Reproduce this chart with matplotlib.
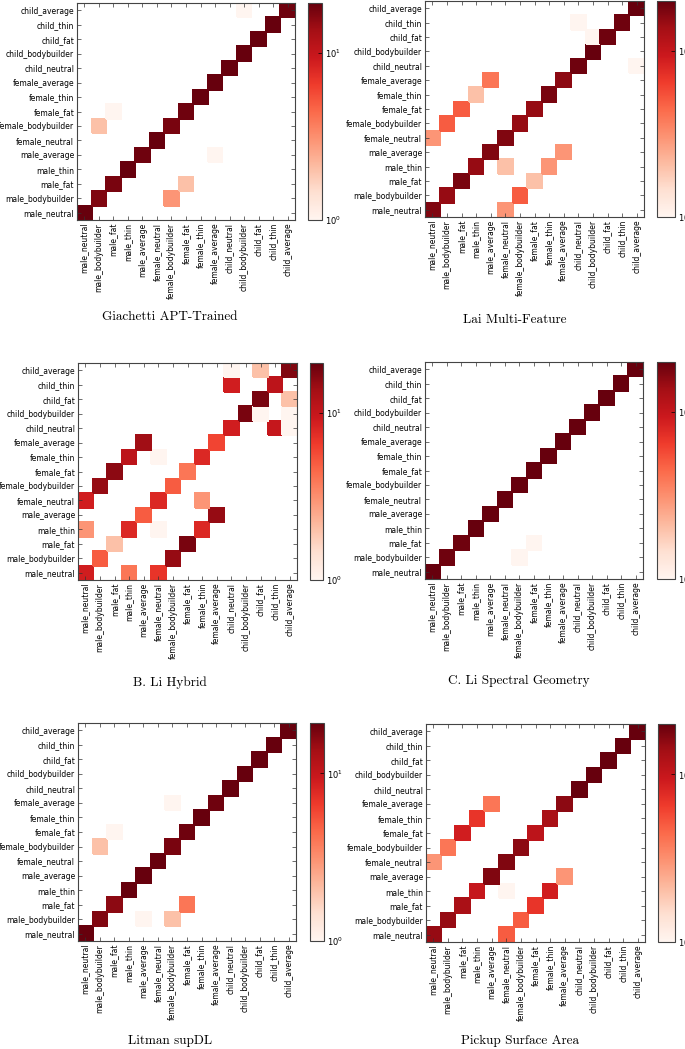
import numpy as np
import matplotlib
matplotlib.use('Agg')
import matplotlib.pyplot as plt
from matplotlib.colors import LogNorm

classes = ['male_neutral', 'male_bodybuilder', 'male_fat', 'male_thin', 'male_average',
           'female_neutral', 'female_bodybuilder', 'female_fat', 'female_thin', 'female_average',
           'child_neutral', 'child_bodybuilder', 'child_fat', 'child_thin', 'child_average']

# confusion matrices, row = true class, column = predicted class
giachetti = [
    [20, 0, 0, 0, 0, 0, 0, 0, 0, 0, 0, 0, 0, 0, 0],
    [0, 17, 0, 0, 0, 0, 3, 0, 0, 0, 0, 0, 0, 0, 0],
    [0, 0, 18, 0, 0, 0, 0, 2, 0, 0, 0, 0, 0, 0, 0],
    [0, 0, 0, 20, 0, 0, 0, 0, 0, 0, 0, 0, 0, 0, 0],
    [0, 0, 0, 0, 19, 0, 0, 0, 0, 1, 0, 0, 0, 0, 0],
    [0, 0, 0, 0, 0, 20, 0, 0, 0, 0, 0, 0, 0, 0, 0],
    [0, 2, 0, 0, 0, 0, 18, 0, 0, 0, 0, 0, 0, 0, 0],
    [0, 0, 1, 0, 0, 0, 0, 19, 0, 0, 0, 0, 0, 0, 0],
    [0, 0, 0, 0, 0, 0, 0, 0, 20, 0, 0, 0, 0, 0, 0],
    [0, 0, 0, 0, 0, 0, 0, 0, 0, 20, 0, 0, 0, 0, 0],
    [0, 0, 0, 0, 0, 0, 0, 0, 0, 0, 20, 0, 0, 0, 0],
    [0, 0, 0, 0, 0, 0, 0, 0, 0, 0, 0, 20, 0, 0, 0],
    [0, 0, 0, 0, 0, 0, 0, 0, 0, 0, 0, 0, 20, 0, 0],
    [0, 0, 0, 0, 0, 0, 0, 0, 0, 0, 0, 0, 0, 20, 0],
    [0, 0, 0, 0, 0, 0, 0, 0, 0, 0, 0, 1, 0, 0, 19],
]

lai = [
    [17, 0, 0, 0, 0, 3, 0, 0, 0, 0, 0, 0, 0, 0, 0],
    [0, 15, 0, 0, 0, 0, 5, 0, 0, 0, 0, 0, 0, 0, 0],
    [0, 0, 18, 0, 0, 0, 0, 2, 0, 0, 0, 0, 0, 0, 0],
    [0, 0, 0, 15, 0, 2, 0, 0, 3, 0, 0, 0, 0, 0, 0],
    [0, 0, 0, 0, 17, 0, 0, 0, 0, 3, 0, 0, 0, 0, 0],
    [3, 0, 0, 0, 0, 17, 0, 0, 0, 0, 0, 0, 0, 0, 0],
    [0, 5, 0, 0, 0, 0, 15, 0, 0, 0, 0, 0, 0, 0, 0],
    [0, 0, 5, 0, 0, 0, 0, 15, 0, 0, 0, 0, 0, 0, 0],
    [0, 0, 0, 2, 0, 0, 0, 0, 18, 0, 0, 0, 0, 0, 0],
    [0, 0, 0, 0, 4, 0, 0, 0, 0, 16, 0, 0, 0, 0, 0],
    [0, 0, 0, 0, 0, 0, 0, 0, 0, 0, 19, 0, 0, 0, 1],
    [0, 0, 0, 0, 0, 0, 0, 0, 0, 0, 0, 20, 0, 0, 0],
    [0, 0, 0, 0, 0, 0, 0, 0, 0, 0, 0, 1, 19, 0, 0],
    [0, 0, 0, 0, 0, 0, 0, 0, 0, 0, 1, 0, 0, 19, 0],
    [0, 0, 0, 0, 0, 0, 0, 0, 0, 0, 0, 0, 0, 0, 20],
]

bli_hybrid = [
    [9, 0, 0, 4, 0, 7, 0, 0, 0, 0, 0, 0, 0, 0, 0],
    [0, 5, 0, 0, 0, 0, 15, 0, 0, 0, 0, 0, 0, 0, 0],
    [0, 0, 2, 0, 0, 0, 0, 18, 0, 0, 0, 0, 0, 0, 0],
    [3, 0, 0, 8, 0, 1, 0, 0, 8, 0, 0, 0, 0, 0, 0],
    [0, 0, 0, 0, 5, 0, 0, 0, 0, 15, 0, 0, 0, 0, 0],
    [9, 0, 0, 0, 0, 8, 0, 0, 3, 0, 0, 0, 0, 0, 0],
    [0, 15, 0, 0, 0, 0, 5, 0, 0, 0, 0, 0, 0, 0, 0],
    [0, 0, 16, 0, 0, 0, 0, 4, 0, 0, 0, 0, 0, 0, 0],
    [0, 0, 0, 11, 0, 1, 0, 0, 8, 0, 0, 0, 0, 0, 0],
    [0, 0, 0, 0, 14, 0, 0, 0, 0, 6, 0, 0, 0, 0, 0],
    [0, 0, 0, 0, 0, 0, 0, 0, 0, 0, 9, 0, 0, 10, 1],
    [0, 0, 0, 0, 0, 0, 0, 0, 0, 0, 0, 18, 1, 0, 1],
    [0, 0, 0, 0, 0, 0, 0, 0, 0, 0, 0, 0, 18, 0, 2],
    [0, 0, 0, 0, 0, 0, 0, 0, 0, 0, 9, 0, 0, 11, 0],
    [0, 0, 0, 0, 0, 0, 0, 0, 0, 0, 1, 0, 2, 0, 17],
]

cli_spectral = [
    [20, 0, 0, 0, 0, 0, 0, 0, 0, 0, 0, 0, 0, 0, 0],
    [0, 19, 0, 0, 0, 0, 1, 0, 0, 0, 0, 0, 0, 0, 0],
    [0, 0, 19, 0, 0, 0, 0, 1, 0, 0, 0, 0, 0, 0, 0],
    [0, 0, 0, 20, 0, 0, 0, 0, 0, 0, 0, 0, 0, 0, 0],
    [0, 0, 0, 0, 20, 0, 0, 0, 0, 0, 0, 0, 0, 0, 0],
    [0, 0, 0, 0, 0, 20, 0, 0, 0, 0, 0, 0, 0, 0, 0],
    [0, 0, 0, 0, 0, 0, 20, 0, 0, 0, 0, 0, 0, 0, 0],
    [0, 0, 0, 0, 0, 0, 0, 20, 0, 0, 0, 0, 0, 0, 0],
    [0, 0, 0, 0, 0, 0, 0, 0, 20, 0, 0, 0, 0, 0, 0],
    [0, 0, 0, 0, 0, 0, 0, 0, 0, 20, 0, 0, 0, 0, 0],
    [0, 0, 0, 0, 0, 0, 0, 0, 0, 0, 20, 0, 0, 0, 0],
    [0, 0, 0, 0, 0, 0, 0, 0, 0, 0, 0, 20, 0, 0, 0],
    [0, 0, 0, 0, 0, 0, 0, 0, 0, 0, 0, 0, 20, 0, 0],
    [0, 0, 0, 0, 0, 0, 0, 0, 0, 0, 0, 0, 0, 20, 0],
    [0, 0, 0, 0, 0, 0, 0, 0, 0, 0, 0, 0, 0, 0, 20],
]

litman = [
    [20, 0, 0, 0, 0, 0, 0, 0, 0, 0, 0, 0, 0, 0, 0],
    [0, 17, 0, 0, 1, 0, 2, 0, 0, 0, 0, 0, 0, 0, 0],
    [0, 0, 16, 0, 0, 0, 0, 4, 0, 0, 0, 0, 0, 0, 0],
    [0, 0, 0, 20, 0, 0, 0, 0, 0, 0, 0, 0, 0, 0, 0],
    [0, 0, 0, 0, 20, 0, 0, 0, 0, 0, 0, 0, 0, 0, 0],
    [0, 0, 0, 0, 0, 20, 0, 0, 0, 0, 0, 0, 0, 0, 0],
    [0, 2, 0, 0, 0, 0, 18, 0, 0, 0, 0, 0, 0, 0, 0],
    [0, 0, 1, 0, 0, 0, 0, 19, 0, 0, 0, 0, 0, 0, 0],
    [0, 0, 0, 0, 0, 0, 0, 0, 20, 0, 0, 0, 0, 0, 0],
    [0, 0, 0, 0, 0, 0, 1, 0, 0, 19, 0, 0, 0, 0, 0],
    [0, 0, 0, 0, 0, 0, 0, 0, 0, 0, 20, 0, 0, 0, 0],
    [0, 0, 0, 0, 0, 0, 0, 0, 0, 0, 0, 20, 0, 0, 0],
    [0, 0, 0, 0, 0, 0, 0, 0, 0, 0, 0, 0, 20, 0, 0],
    [0, 0, 0, 0, 0, 0, 0, 0, 0, 0, 0, 0, 0, 20, 0],
    [0, 0, 0, 0, 0, 0, 0, 0, 0, 0, 0, 0, 0, 0, 20],
]

pickup = [
    [15, 0, 0, 0, 0, 5, 0, 0, 0, 0, 0, 0, 0, 0, 0],
    [0, 15, 0, 0, 0, 0, 5, 0, 0, 0, 0, 0, 0, 0, 0],
    [0, 0, 13, 0, 0, 0, 0, 7, 0, 0, 0, 0, 0, 0, 0],
    [0, 0, 0, 10, 0, 1, 0, 0, 9, 0, 0, 0, 0, 0, 0],
    [0, 0, 0, 0, 17, 0, 0, 0, 0, 3, 0, 0, 0, 0, 0],
    [3, 0, 0, 0, 0, 17, 0, 0, 0, 0, 0, 0, 0, 0, 0],
    [0, 4, 0, 0, 0, 0, 16, 0, 0, 0, 0, 0, 0, 0, 0],
    [0, 0, 9, 0, 0, 0, 0, 11, 0, 0, 0, 0, 0, 0, 0],
    [0, 0, 0, 7, 0, 0, 0, 0, 13, 0, 0, 0, 0, 0, 0],
    [0, 0, 0, 0, 4, 0, 0, 0, 0, 16, 0, 0, 0, 0, 0],
    [0, 0, 0, 0, 0, 0, 0, 0, 0, 0, 20, 0, 0, 0, 0],
    [0, 0, 0, 0, 0, 0, 0, 0, 0, 0, 0, 20, 0, 0, 0],
    [0, 0, 0, 0, 0, 0, 0, 0, 0, 0, 0, 0, 20, 0, 0],
    [0, 0, 0, 0, 0, 0, 0, 0, 0, 0, 0, 0, 0, 20, 0],
    [0, 0, 0, 0, 0, 0, 0, 0, 0, 0, 0, 0, 0, 0, 20],
]

titles = ['Giachetti APT-Trained', 'Lai Multi-Feature', 'B. Li Hybrid',
          'C. Li Spectral Geometry', 'Litman supDL', 'Pickup Surface Area']
matrices = [giachetti, lai, bli_hybrid, cli_spectral, litman, pickup]

W, H = 685, 1049
fig = plt.figure(figsize=(W / 100, H / 100), dpi=100)


def box(x0, y0, x1, y1):
    # pixel box (top-left origin) -> figure fraction rect
    return [x0 / W, 1 - y1 / H, (x1 - x0) / W, (y1 - y0) / H]


# axes box, colorbar box, title centre (pixels)
layout = [
    ((77, 3, 295, 220), (308, 3, 322, 220), (170, 317)),
    ((425, 1, 644, 217), (657, 1, 675, 217), (515, 320)),
    ((78, 363, 297, 580), (310, 363, 323, 580), (170, 683)),
    ((425, 362, 643, 579), (657, 362, 675, 579), (519, 681)),
    ((78, 723, 296, 941), (310, 723, 324, 941), (170, 1041)),
    ((426, 724, 645, 942), (658, 724, 675, 942), (520, 1041)),
]

norm = LogNorm(vmin=1, vmax=20)
n = len(classes)

for mat, title, (abox, cbox, tpos) in zip(matrices, titles, layout):
    ax = fig.add_axes(box(*abox))
    data = np.ma.masked_equal(np.array(mat, dtype=float), 0)
    mesh = ax.pcolormesh(np.arange(n + 1), np.arange(n + 1), data,
                         cmap='Reds', norm=norm, edgecolors='face', linewidth=0.3)
    ax.set_xlim(0, n)
    ax.set_ylim(0, n)
    ax.set_xticks(np.arange(n) + 0.5)
    ax.set_yticks(np.arange(n) + 0.5)
    ax.set_xticklabels(classes, rotation=90, fontsize=5.5)
    ax.set_yticklabels(classes, fontsize=5.5)
    ax.tick_params(direction='in', top=True, right=True, length=3, width=0.5,
                   pad=2, color='#333333')
    for s in ax.spines.values():
        s.set_linewidth(0.8)
        s.set_color('#444444')

    cax = fig.add_axes(box(*cbox))
    cb = fig.colorbar(mesh, cax=cax)
    cb.ax.minorticks_off()
    cb.ax.tick_params(labelsize=6, direction='in', length=3, width=0.5, pad=2)
    cb.outline.set_linewidth(0.8)
    cb.outline.set_edgecolor('#444444')

    fig.text(tpos[0] / W, 1 - tpos[1] / H, title, family='cmr10', fontsize=9.5,
             ha='center', va='center')

plt.savefig('out.png', dpi=100)
